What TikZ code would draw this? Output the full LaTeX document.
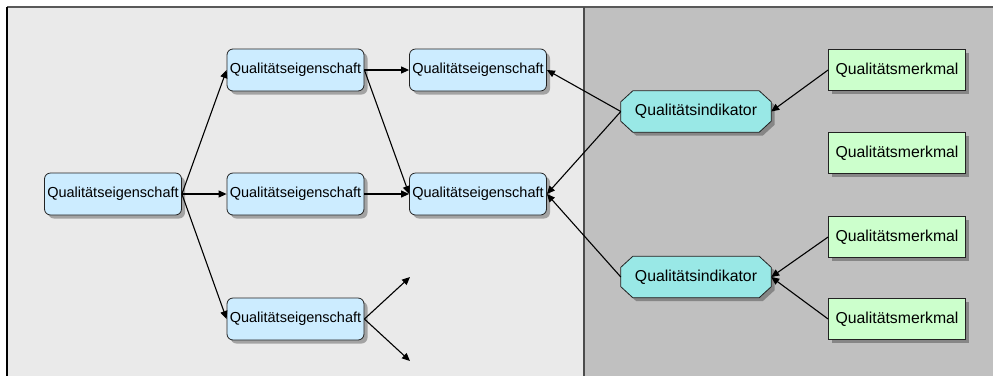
\documentclass[tikz,border=0pt]{standalone}
\usepackage{fontspec}
\setmainfont{Liberation Sans}
\usetikzlibrary{shadows,arrows.meta,backgrounds}
\definecolor{leftbg}{HTML}{EAEAEA}
\definecolor{rightbg}{HTML}{C0C0C0}
\definecolor{eigfill}{HTML}{CCECFF}
\definecolor{indfill}{HTML}{99E8E6}
\definecolor{merkfill}{HTML}{CCFFCC}
\definecolor{edgecol}{HTML}{222222}
\begin{document}
\begin{tikzpicture}[x=1pt,y=-1pt,
  shade3/.style={drop shadow={shadow xshift=3.5pt,shadow yshift=-3.5pt,fill=black,opacity=0.3}},
  eig/.style={draw=edgecol, line width=0.8pt, rounded corners=6pt, fill=eigfill,
    minimum width=137pt, minimum height=42pt, inner sep=0pt,
    font=\fontsize{14.5}{16}\selectfont, shade3},
  merk/.style={draw=edgecol, line width=0.8pt, fill=merkfill,
    minimum width=137pt, minimum height=41pt, inner sep=0pt,
    font=\fontsize{15.8}{18}\selectfont, shade3},
  indtext/.style={minimum width=150pt, minimum height=41pt, inner sep=0pt,
    font=\fontsize{15.8}{18}\selectfont},
  octo/.style={draw=edgecol, line width=0.8pt, fill=indfill, shade3},
  arr/.style={draw=black, line width=1.1pt, -{Triangle[length=8pt,width=7pt]}}
]
\useasboundingbox (0,0) rectangle (993,376);

% panels
\fill[leftbg] (7,7) rectangle (584,376);
\fill[rightbg] (584,7) rectangle (993,376);
\draw[line width=2pt, draw=black!65] (7,7) -- (993,7);
\draw[line width=1.5pt, draw=black] (7,7) -- (7,376);
\draw[line width=2pt, draw=black!70] (584,7) -- (584,376);

% Qualitaetseigenschaften
\node[eig] (q0) at (113,194) {Qualitätseigenschaft};
\node[eig] (q1) at (295.5,70) {Qualitätseigenschaft};
\node[eig] (q2) at (295.5,194) {Qualitätseigenschaft};
\node[eig] (q3) at (295.5,319) {Qualitätseigenschaft};
\node[eig] (q4) at (478,70) {Qualitätseigenschaft};
\node[eig] (q5) at (478,194) {Qualitätseigenschaft};

% Merkmale
\node[merk] (m1) at (897,70) {Qualitätsmerkmal};
\node[merk] (m2) at (897,153) {Qualitätsmerkmal};
\node[merk] (m3) at (897,237) {Qualitätsmerkmal};
\node[merk] (m4) at (897,319) {Qualitätsmerkmal};

% Indikatoren
\node[indtext] (i1) at (696,111.5) {};
\node[indtext] (i2) at (696,277) {};
\foreach \n in {i1,i2}{
  \path[octo] ([xshift=12pt]\n.north west) -- ([xshift=-12pt]\n.north east)
    -- ([yshift=-11pt]\n.north east) -- ([yshift=11pt]\n.south east)
    -- ([xshift=-12pt]\n.south east) -- ([xshift=12pt]\n.south west)
    -- ([yshift=11pt]\n.south west) -- ([yshift=-11pt]\n.north west) -- cycle;
  \node[indtext] at (\n.center) {Qualitätsindikator};
}

% free ends
\coordinate (f1) at (410,277);
\coordinate (f2) at (410,361);

% connectors
\draw[arr] (q0.east) -- (q1.west);
\draw[arr] (q0.east) -- (q2.west);
\draw[arr] (q0.east) -- (q3.west);
\draw[arr] (q1.east) -- (q4.west);
\draw[arr] (q1.east) -- (q5.west);
\draw[arr] (q2.east) -- (q5.west);
\draw[arr] (q3.east) -- (f1);
\draw[arr] (q3.east) -- (f2);
\draw[arr] (i1.west) -- (q4.east);
\draw[arr] (i1.west) -- (q5.east);
\draw[arr] (i2.west) -- (q5.east);
\draw[arr] (m1.west) -- (i1.east);
\draw[arr] (m3.west) -- (i2.east);
\draw[arr] (m4.west) -- (i2.east);
\end{tikzpicture}
\end{document}
